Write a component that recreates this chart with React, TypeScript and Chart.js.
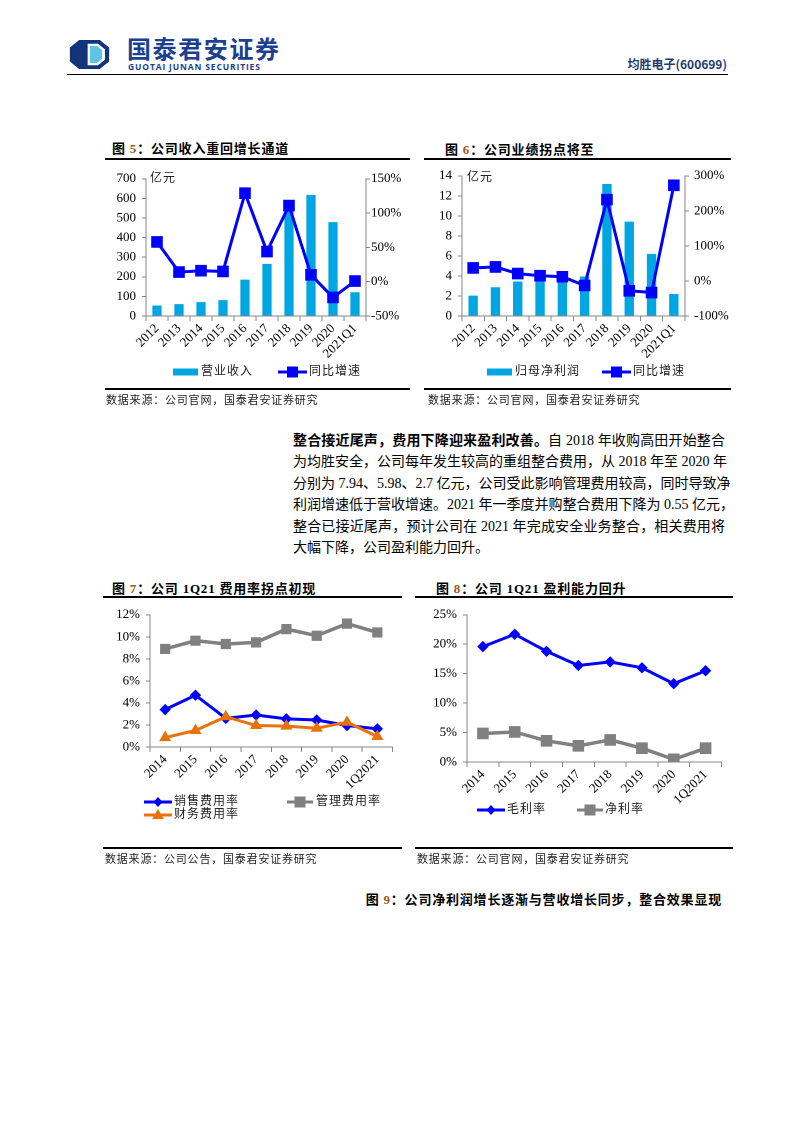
import React, { useEffect, useRef } from 'react';
import { Chart, registerables } from 'chart.js';

Chart.register(...registerables);

// ---------- data ----------
const revCategories = ['2012', '2013', '2014', '2015', '2016', '2017', '2018', '2019', '2020', '2021Q1'];
const revenue = [53.5, 60.7, 71.1, 80.9, 185.5, 266.1, 561.8, 618.0, 478.9, 120.9];
const revenueYoY = [58, 14, 16, 15, 129, 44, 111, 10, -23, 1];

const profitCategories = ['2012', '2013', '2014', '2015', '2016', '2017', '2018', '2019', '2020', '2021Q1'];
const netProfit = [2.04, 2.87, 3.44, 3.97, 4.46, 3.95, 13.18, 9.42, 6.2, 2.2];
const netProfitYoY = [37, 40, 21, 15, 12, -13, 232, -28, -33, 273];

const feeYears = ['2014', '2015', '2016', '2017', '2018', '2019', '2020', '1Q2021'];
const salesRate = [3.4, 4.7, 2.6, 2.9, 2.55, 2.45, 1.95, 1.65];
const adminRate = [8.9, 9.65, 9.35, 9.5, 10.7, 10.1, 11.2, 10.4];
const financeRate = [0.85, 1.5, 2.75, 1.95, 1.9, 1.7, 2.25, 0.95];

const marginYears = ['2014', '2015', '2016', '2017', '2018', '2019', '2020', '1Q2021'];
const grossMargin = [19.6, 21.7, 18.8, 16.4, 17.0, 16.0, 13.3, 15.5];
const netMargin = [4.85, 5.1, 3.6, 2.75, 3.75, 2.35, 0.45, 2.35];

const revTicksLeft = { min: 0, max: 700, step: 100 };
const revTicksRight = { min: -50, max: 150, step: 50 };
const profitTicksLeft = { min: 0, max: 14, step: 2 };
const profitTicksRight = { min: -100, max: 300, step: 100 };
const feeTicks = { min: 0, max: 12, step: 2 };
const marginTicks = { min: 0, max: 25, step: 5 };

// ---------- styles ----------
const SERIF = "'Liberation Serif', 'Times New Roman', serif";
const CJK = "'Liberation Serif', 'Noto Sans CJK SC', sans-serif";
const AXIS = '#868686';
const BAR = '#00a6e2';
const BLUE = '#0000ff';
const GRAY = '#808080';
const ORANGE = '#e8720c';
const NAVY = '#1d3f8f';

type Box = { left: number; top: number; width: number; height: number };

const tickFont = { family: SERIF, size: 13 };

function yAxis(
  position: 'left' | 'right',
  t: { min: number; max: number; step: number },
  width: number,
  padding: number,
  pct: boolean
): any {
  return {
    type: 'linear',
    position,
    min: t.min,
    max: t.max,
    ticks: {
      stepSize: t.step,
      font: tickFont,
      color: '#000',
      padding,
      callback: (v: any) => (pct ? v + '%' : String(v)),
    },
    grid: { drawOnChartArea: false, tickLength: 4, color: AXIS, tickColor: AXIS },
    border: { color: AXIS, width: 1 },
    afterFit: (s: any) => {
      s.width = width;
    },
  };
}

function xAxis(height: number): any {
  return {
    type: 'category',
    offset: true,
    grid: { offset: true, drawOnChartArea: false, tickLength: 5, color: AXIS, tickColor: AXIS },
    border: { color: AXIS, width: 1 },
    ticks: {
      autoSkip: false,
      minRotation: 45,
      maxRotation: 45,
      font: tickFont,
      color: '#000',
      padding: 0,
    },
    afterFit: (s: any) => {
      s.height = height;
    },
  };
}

const basePlugins = { legend: { display: false }, tooltip: { enabled: false }, title: { display: false } };

function ChartCanvas({ box, config }: { box: Box; config: () => any }) {
  const ref = useRef<HTMLCanvasElement>(null);
  useEffect(() => {
    const chart = new Chart(ref.current as HTMLCanvasElement, config());
    return () => chart.destroy();
  }, []);
  return (
    <div style={{ position: 'absolute', left: box.left, top: box.top, width: box.width, height: box.height }}>
      <canvas ref={ref} />
    </div>
  );
}

function barLineConfig(
  labels: string[],
  bars: number[],
  line: number[],
  barLabel: string,
  left: any,
  right: any,
  xh: number,
  padTop: number
) {
  return () => ({
    type: 'bar',
    data: {
      labels,
      datasets: [
        {
          type: 'line',
          label: '同比增速',
          data: line,
          yAxisID: 'y1',
          borderColor: BLUE,
          backgroundColor: BLUE,
          borderWidth: 3,
          pointStyle: 'rect',
          pointRadius: 7.5,
          pointBackgroundColor: BLUE,
          pointBorderColor: BLUE,
          pointBorderWidth: 1,
          tension: 0,
          order: 0,
        },
        {
          type: 'bar',
          label: barLabel,
          data: bars,
          yAxisID: 'y',
          backgroundColor: BAR,
          borderWidth: 0,
          categoryPercentage: 1,
          barPercentage: 0.42,
          order: 1,
        },
      ],
    },
    options: {
      responsive: true,
      maintainAspectRatio: false,
      animation: false,
      devicePixelRatio: 2,
      layout: { padding: { top: padTop, left: 0, right: 0, bottom: 0 } },
      plugins: basePlugins,
      scales: { x: xAxis(xh), y: left, y1: right },
    },
  });
}

function linesConfig(labels: string[], datasets: any[], y: any, xh: number, padTop: number, padRight: number) {
  return () => ({
    type: 'line',
    data: { labels, datasets },
    options: {
      responsive: true,
      maintainAspectRatio: false,
      animation: false,
      devicePixelRatio: 2,
      layout: { padding: { top: padTop, left: 0, right: padRight, bottom: 0 } },
      plugins: basePlugins,
      scales: { x: xAxis(xh), y },
    },
  });
}

function lineDs(label: string, data: number[], color: string, style: string, radius: number, width: number, order: number) {
  return {
    label,
    data,
    borderColor: color,
    backgroundColor: color,
    borderWidth: width,
    pointStyle: style,
    pointRadius: radius,
    pointBackgroundColor: color,
    pointBorderColor: color,
    pointBorderWidth: 1,
    tension: 0,
    order,
  };
}

// ---------- page helpers ----------
function Txt({
  x,
  y,
  children,
  size = 12,
  bold = false,
  color = '#000',
  spacing = 0,
  align = 'left',
  font = CJK,
}: any) {
  const style: React.CSSProperties = {
    position: 'absolute',
    top: y - size * 0.65,
    lineHeight: size * 1.3 + 'px',
    fontSize: size,
    fontWeight: bold ? 700 : 400,
    color,
    letterSpacing: spacing,
    whiteSpace: 'nowrap',
    fontFamily: font,
  };
  if (align === 'right') style.right = 793 - x;
  else style.left = x;
  return <div style={style}>{children}</div>;
}

function HLine({ x1, x2, y, w = 1.4 }: { x1: number; x2: number; y: number; w?: number }) {
  return <div style={{ position: 'absolute', left: x1, top: y - w / 2, width: x2 - x1, height: w, background: '#000' }} />;
}

function Swatch({ x, y, kind, color, w = 28 }: { x: number; y: number; kind: string; color: string; w?: number }) {
  const h = 16;
  const cx = w / 2;
  const cy = h / 2;
  let marker: any = null;
  if (kind === 'rect') marker = <rect x={cx - 5.5} y={cy - 5.5} width={11} height={11} fill={color} />;
  if (kind === 'diamond') marker = <polygon points={`${cx},${cy - 5} ${cx + 4.5},${cy} ${cx},${cy + 5} ${cx - 4.5},${cy}`} fill={color} />;
  if (kind === 'tri') marker = <polygon points={`${cx},${cy - 6} ${cx + 6},${cy + 4} ${cx - 6},${cy + 4}`} fill={color} />;
  return (
    <svg style={{ position: 'absolute', left: x, top: y - h / 2 }} width={w} height={h}>
      {kind === 'bar' ? (
        <rect x={0} y={cy - 3.5} width={w} height={7} fill={color} />
      ) : (
        <>
          <line x1={0} y1={cy} x2={w} y2={cy} stroke={color} strokeWidth={3} />
          {marker}
        </>
      )}
    </svg>
  );
}

function Title({ x, y, num, text }: { x: number; y: number; num: string; text: string }) {
  return (
    <Txt x={x} y={y} size={13} bold spacing={0.8}>
      图 <span style={{ color: '#9c5a14' }}>{num}</span>：{text}
    </Txt>
  );
}

const paragraph = [
  ['整合接近尾声，费用下降迎来盈利改善。', '自 2018 年收购高田开始整合'],
  ['', '为均胜安全，公司每年发生较高的重组整合费用，从 2018 年至 2020 年'],
  ['', '分别为 7.94、5.98、2.7 亿元，公司受此影响管理费用较高，同时导致净'],
  ['', '利润增速低于营收增速。2021 年一季度并购整合费用下降为 0.55 亿元，'],
  ['', '整合已接近尾声，预计公司在 2021 年完成安全业务整合，相关费用将'],
  ['', '大幅下降，公司盈利能力回升。'],
];

export default function App() {
  const c5: Box = { left: 100, top: 165, width: 315, height: 201 };
  const c6: Box = { left: 420, top: 162, width: 312, height: 204 };
  const c7: Box = { left: 100, top: 601, width: 300, height: 195 };
  const c8: Box = { left: 415, top: 601, width: 315, height: 214 };

  return (
    <div style={{ position: 'absolute', left: 0, top: 0, width: 793, height: 1122, background: '#fff', overflow: 'hidden' }}>
      {/* header */}
      <svg style={{ position: 'absolute', left: 69, top: 40 }} width={41} height={29} viewBox="0 0 42 31">
        <polygon points="10,0 32,0 42,8 42,23 32,31 10,31 0,23 0,8" fill="#12357a" />
        <polygon points="19,4 30,4 37.5,10 37.5,21 30,27 19,27" fill="#fff" />
        <polygon points="21.5,6.5 29,6.5 34.5,11 34.5,20 29,24.5 21.5,24.5" fill="#5cc6e2" />
        <polygon points="9,6 17,6 17,25 9,25 5,20 5,11" fill="#12357a" />
      </svg>
      <div
        style={{
          position: 'absolute',
          left: 127,
          top: 34,
          fontSize: 24,
          lineHeight: '28px',
          fontWeight: 700,
          color: NAVY,
          letterSpacing: 1.6,
          fontFamily: "'Noto Sans CJK SC', sans-serif",
          whiteSpace: 'nowrap',
        }}
      >
        国泰君安证券
      </div>
      <div
        style={{
          position: 'absolute',
          left: 128,
          top: 62,
          fontSize: 8.5,
          lineHeight: '10px',
          fontWeight: 700,
          color: NAVY,
          letterSpacing: 0.85,
          fontFamily: "'Open Sans', sans-serif",
          whiteSpace: 'nowrap',
        }}
      >
        GUOTAI JUNAN SECURITIES
      </div>
      <Txt x={727} y={64} size={12} bold color="#1f3b73" align="right" font="'Noto Sans CJK SC', sans-serif">
        均胜电子(600699)
      </Txt>
      <HLine x1={67} x2={728} y={74.5} w={1.5} />

      {/* figure 5 */}
      <Title x={112} y={149} num="5" text="公司收入重回增长通道" />
      <HLine x1={105} x2={410} y={159} />
      <ChartCanvas
        box={c5}
        config={barLineConfig(
          revCategories,
          revenue,
          revenueYoY,
          '营业收入',
          yAxis('left', revTicksLeft, 46, 6, false),
          yAxis('right', revTicksRight, 49, 1, true),
          50,
          12
        )}
      />
      <Txt x={150} y={179} size={12} spacing={1} color="#222">亿元</Txt>
      <Swatch x={173} y={372} kind="bar" color={BAR} w={25} />
      <Txt x={201} y={372} size={12} spacing={1} color="#222">营业收入</Txt>
      <Swatch x={278} y={372} kind="rect" color={BLUE} w={29} />
      <Txt x={309} y={372} size={12} spacing={1} color="#222">同比增速</Txt>
      <HLine x1={105} x2={410} y={389} />
      <Txt x={106} y={400} size={11} spacing={0.8} color="#222">数据来源：公司官网，国泰君安证券研究</Txt>

      {/* figure 6 */}
      <Title x={445} y={150} num="6" text="公司业绩拐点将至" />
      <HLine x1={424} x2={731} y={159} />
      <ChartCanvas
        box={c6}
        config={barLineConfig(
          profitCategories,
          netProfit,
          netProfitYoY,
          '归母净利润',
          yAxis('left', profitTicksLeft, 42, 6, false),
          yAxis('right', profitTicksRight, 47, 5, true),
          50,
          12
        )}
      />
      <Txt x={467} y={178} size={12} spacing={1} color="#222">亿元</Txt>
      <Swatch x={487} y={372} kind="bar" color={BAR} w={25} />
      <Txt x={515} y={372} size={12} spacing={1} color="#222">归母净利润</Txt>
      <Swatch x={602} y={372} kind="rect" color={BLUE} w={29} />
      <Txt x={633} y={372} size={12} spacing={1} color="#222">同比增速</Txt>
      <HLine x1={424} x2={731} y={389} />
      <Txt x={428} y={400} size={11} spacing={0.8} color="#222">数据来源：公司官网，国泰君安证券研究</Txt>

      {/* paragraph */}
      {paragraph.map((ln, i) => {
        const last = i === paragraph.length - 1;
        return (
          <div
            key={i}
            style={{
              position: 'absolute',
              left: 293,
              width: 432,
              top: 441 + i * 21.4 - 10,
              lineHeight: '20px',
              fontSize: 14,
              fontFamily: CJK,
              color: '#000',
              textAlign: 'justify',
              textAlignLast: last ? 'left' : 'justify',
              whiteSpace: 'nowrap',
            }}
          >
            {ln[0] ? <b>{ln[0]}</b> : null}
            {ln[1]}
          </div>
        );
      })}

      {/* figure 7 */}
      <Title x={112} y={589} num="7" text="公司 1Q21 费用率拐点初现" />
      <HLine x1={103} x2={402} y={597} />
      <ChartCanvas
        box={c7}
        config={linesConfig(
          feeYears,
          [
            lineDs('销售费用率', salesRate, BLUE, 'rectRot', 5, 3, 2),
            lineDs('管理费用率', adminRate, GRAY, 'rect', 6.5, 3.5, 1),
            lineDs('财务费用率', financeRate, ORANGE, 'triangle', 6, 3, 0),
          ],
          yAxis('left', feeTicks, 50, 6, true),
          49,
          12,
          4
        )}
      />
      <Swatch x={144} y={802} kind="diamond" color={BLUE} />
      <Txt x={174} y={802} size={12} spacing={1} color="#222">销售费用率</Txt>
      <Swatch x={287} y={802} kind="rect" color={GRAY} w={26} />
      <Txt x={316} y={802} size={12} spacing={1} color="#222">管理费用率</Txt>
      <Swatch x={144} y={815} kind="tri" color={ORANGE} />
      <Txt x={174} y={815} size={12} spacing={1} color="#222">财务费用率</Txt>
      <HLine x1={103} x2={402} y={848} />
      <Txt x={105} y={859} size={11} spacing={0.8} color="#222">数据来源：公司公告，国泰君安证券研究</Txt>

      {/* figure 8 */}
      <Title x={436} y={589} num="8" text="公司 1Q21 盈利能力回升" />
      <HLine x1={415} x2={733} y={597} />
      <ChartCanvas
        box={c8}
        config={linesConfig(
          marginYears,
          [
            lineDs('毛利率', grossMargin, BLUE, 'rectRot', 5, 3, 0),
            lineDs('净利率', netMargin, GRAY, 'rect', 7.5, 3.5, 1),
          ],
          yAxis('left', marginTicks, 52, 6, true),
          53,
          12,
          7
        )}
      />
      <Swatch x={477} y={810} kind="diamond" color={BLUE} />
      <Txt x={507} y={810} size={12} spacing={1} color="#222">毛利率</Txt>
      <Swatch x={577} y={810} kind="rect" color={GRAY} w={26} />
      <Txt x={605} y={810} size={12} spacing={1} color="#222">净利率</Txt>
      <HLine x1={415} x2={733} y={848} />
      <Txt x={417} y={859} size={11} spacing={0.8} color="#222">数据来源：公司官网，国泰君安证券研究</Txt>

      {/* figure 9 title */}
      <Txt x={722} y={900} size={13} bold spacing={0.8} align="right">
        图 <span style={{ color: '#9c5a14' }}>9</span>：公司净利润增长逐渐与营收增长同步，整合效果显现
      </Txt>
    </div>
  );
}
